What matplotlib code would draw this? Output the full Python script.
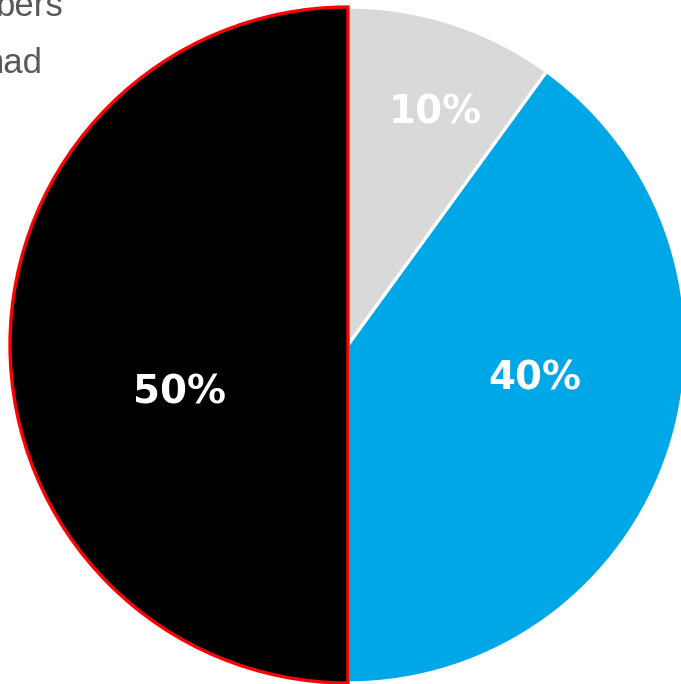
import matplotlib
matplotlib.use("Agg")
import matplotlib.pyplot as plt

labels = ["10%", "40%", "50%"]
values = [10, 40, 50]
colors = ["#D9D9D9", "#00A7E7", "#000000"]
edge_colors = ["white", "white", "#FF0000"]
side_text = ["bers", "had"]

W, H = 681, 684
fig = plt.figure(figsize=(W / 100, H / 100), dpi=100)
ax = fig.add_axes([0, 0, 1, 1])
cx, cy, R = 348, 345, 338

wedges, _ = ax.pie(values, colors=colors, startangle=90, counterclock=False,
                   radius=R, center=(0, 0), frame=True)
for w, ec in zip(wedges, edge_colors):
    w.set_edgecolor(ec)
    w.set_linewidth(2.4)
wedges[2].set_zorder(3)
ax.set_xlim(-cx, W - cx)
ax.set_ylim(-(H - cy), cy)
ax.set_aspect("equal")
ax.axis("off")

label_pos = [(435, 112), (535, 378), (180, 393)]
for lab, (px, py) in zip(labels, label_pos):
    ax.text(px - cx, cy - py, lab, ha="center", va="center", color="white",
            fontsize=28, fontweight="bold", family="DejaVu Sans", zorder=5)

text_pos = [(63, 16), (43, 73)]
for t, (px, py) in zip(side_text, text_pos):
    ax.text(px - cx, cy - py, t, ha="right", va="baseline", color="#595959",
            fontsize=25, family="Liberation Sans", zorder=5)

fig.savefig("out.png", dpi=100)
